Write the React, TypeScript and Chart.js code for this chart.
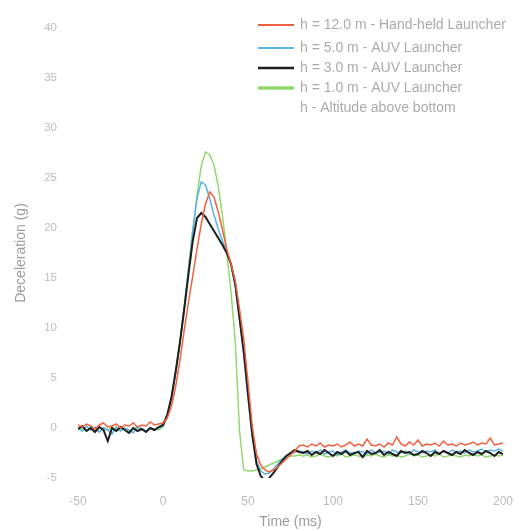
import React, { useEffect, useRef } from "react";
import { Chart, registerables } from "chart.js";

Chart.register(...registerables);

const TIME = [
  -50, -47.5, -45, -42.5, -40, -37.5, -35, -32.5, -30, -27.5,
  -25, -22.5, -20, -17.5, -15, -12.5, -10, -7.5, -5, -2.5,
  0, 2.5, 5, 7.5, 10, 12.5, 15, 17.5, 20, 22.5,
  25, 27.5, 30, 32.5, 35, 37.5, 40, 42.5, 45, 47.5,
  50, 52.5, 55, 57.5, 60, 62.5, 65, 67.5, 70, 72.5,
  75, 77.5, 80, 82.5, 85, 87.5, 90, 92.5, 95, 97.5,
  100, 102.5, 105, 107.5, 110, 112.5, 115, 117.5, 120, 122.5,
  125, 127.5, 130, 132.5, 135, 137.5, 140, 142.5, 145, 147.5,
  150, 152.5, 155, 157.5, 160, 162.5, 165, 167.5, 170, 172.5,
  175, 177.5, 180, 182.5, 185, 187.5, 190, 192.5, 195, 197.5,
  200,
];

const H12 = [
  0.3, 0.1, 0.4, 0.2, -0.1, 0.3, 0.5, 0.1, 0.2, 0.4,
  0.0, 0.3, 0.2, 0.5, 0.1, 0.3, 0.2, 0.6, 0.3, 0.4,
  0.5, 1.0, 2.2, 4.2, 6.8, 9.8, 12.6, 15.2, 17.9, 20.4,
  22.4, 23.6, 23.1, 21.6, 19.8, 17.9, 16.4, 14.7, 11.9, 8.9,
  4.6, 0.2, -2.6, -3.7, -4.2, -4.4, -4.2, -3.9, -3.5, -3.1,
  -2.7, -2.3, -1.8,
  -1.7, -1.9, -1.6, -1.8, -1.5, -1.9, -1.7, -1.8, -1.6, -1.9, -1.7, -1.4,
  -1.8, -1.6, -1.8, -1.1, -1.7, -1.8, -1.6, -1.9, -1.5, -1.7, -0.9, -1.6,
  -1.8, -1.4, -1.7, -1.2, -1.8, -1.6, -1.7, -1.5, -1.8, -1.3, -1.7, -1.6,
  -1.8, -1.5, -1.7, -1.6, -1.4, -1.7, -1.5, -1.6, -1.0, -1.7, -1.6, -1.5,
];

const H5 = [
  0.0, -0.3, 0.2, -0.2, 0.1, -0.4, 0.0, -0.2, -0.6, 0.1,
  -0.3, 0.0, -0.2, -0.5, 0.1, -0.1, -0.3, 0.0, -0.2, 0.0,
  0.2, 1.2, 3.0, 5.6, 8.5, 12.0, 15.8, 19.6, 23.0, 24.6,
  24.3, 22.9, 21.3, 19.9, 18.7, 17.6, 16.4, 14.2, 10.9, 7.3,
  3.0, -1.0, -3.3, -4.3, -4.6, -4.5, -4.1, -3.6, -3.1, -2.8,
  -2.6, -2.4, -2.3,
  -2.4, -2.6, -2.3, -2.5, -2.2, -2.6, -2.4, -2.3, -2.7, -2.4, -2.2, -2.5,
  -2.6, -2.3, -2.4, -2.6, -2.2, -2.5, -2.4, -2.3, -2.6, -2.2, -2.4, -2.5,
  -2.3, -2.6, -2.2, -2.4, -2.5, -2.3, -2.4, -2.2, -2.6, -2.3, -2.5, -2.2,
  -2.4, -2.3, -2.5, -2.2, -2.4, -2.3, -2.1, -2.4, -2.2, -2.3, -2.1, -2.3,
];

const H3 = [
  -0.1, 0.2, -0.3, 0.0, -0.4, 0.1, -0.2, -1.3, 0.0, -0.3,
  0.1, -0.2, -0.5, 0.0, -0.3, -0.1, -0.4, 0.0, -0.2, 0.1,
  0.3, 1.3, 3.1, 5.7, 8.6, 11.9, 15.4, 18.7, 21.0, 21.5,
  21.1, 20.4, 19.7, 19.0, 18.3, 17.5, 16.4, 14.4, 11.0, 7.6,
  3.4, -0.6, -3.6, -4.8, -5.3, -5.0, -4.5, -3.9, -3.3, -2.8,
  -2.5, -2.2, -2.4,
  -2.5, -2.3, -2.7, -2.4, -2.6, -2.2, -2.5, -2.8, -2.4, -2.6, -2.3, -2.7,
  -2.5, -2.4, -2.9, -2.3, -2.6, -2.5, -2.2, -2.7, -2.4, -2.6, -2.8, -2.3,
  -2.5, -2.4, -2.7, -2.6, -2.3, -2.5, -2.8, -2.4, -2.6, -2.3, -2.5, -2.7,
  -2.4, -2.6, -2.2, -2.5, -2.7, -2.4, -2.6, -2.3, -2.5, -2.8, -2.4, -2.6,
];

const H1 = [
  -0.2, 0.0, -0.3, 0.1, -0.1, -0.4, 0.0, -0.2, 0.2, -0.3,
  -0.1, 0.0, -0.4, -0.1, 0.1, -0.2, -0.3, 0.0, -0.1, -0.2,
  0.1, 1.1, 3.0, 5.6, 8.6, 12.2, 16.0, 19.8, 23.2, 26.2,
  27.6, 27.3, 26.3, 24.2, 21.2, 17.6, 13.6, 8.7, -0.3, -4.2,
  -4.3, -4.3, -4.2, -4.1, -3.9, -3.7, -3.5, -3.3, -3.1, -2.9,
  -2.8, -2.8, -2.7,
  -2.8, -2.7, -2.9, -2.8, -2.6, -2.8, -2.9, -2.7, -2.8, -2.6, -2.9, -2.8,
  -2.7, -2.8, -2.9, -2.7, -2.8, -2.6, -2.8, -2.9, -2.7, -2.8, -2.7, -2.9,
  -2.8, -2.6, -2.8, -2.7, -2.9, -2.8, -2.7, -2.8, -2.6, -2.9, -2.8, -2.7,
  -2.8, -2.9, -2.7, -2.8, -2.6, -2.8, -2.7, -2.9, -2.8, -2.7, -2.8, -2.7,
];

const SERIES_LABELS = [
  "h = 12.0 m - Hand-held Launcher",
  "h = 5.0 m - AUV Launcher",
  "h = 3.0 m - AUV Launcher",
  "h = 1.0 m - AUV Launcher",
];
const LEGEND_NOTE = "h - Altitude above bottom";
const X_TITLE = "Time (ms)";
const Y_TITLE = "Deceleration (g)";

const COLORS = ["#f2603f", "#5ab4e6", "#1e1e1e", "#93d86f"];
const WIDTHS = [1.5, 1.5, 2, 1.5];
const LEGEND_WIDTHS = [2, 2, 2.5, 3.5];

const FONT = "'Liberation Sans', Arial, sans-serif";

const legendPlugin = {
  id: "insideLegend",
  afterDraw(chart: any) {
    const ctx = chart.ctx as CanvasRenderingContext2D;
    const rows = [25, 48, 68, 88, 108];
    const x0 = 258;
    const x1 = 294;
    ctx.save();
    ctx.font = `14px ${FONT}`;
    ctx.textBaseline = "middle";
    ctx.textAlign = "left";
    SERIES_LABELS.forEach((lab, i) => {
      ctx.strokeStyle = COLORS[i];
      ctx.lineWidth = LEGEND_WIDTHS[i];
      ctx.beginPath();
      ctx.moveTo(x0, rows[i]);
      ctx.lineTo(x1, rows[i]);
      ctx.stroke();
      ctx.fillStyle = "#ababab";
      ctx.fillText(lab, 300, rows[i]);
    });
    ctx.fillStyle = "#ababab";
    ctx.fillText(LEGEND_NOTE, 300, rows[4]);
    ctx.restore();
  },
};

export default function App() {
  const ref = useRef<HTMLCanvasElement>(null);
  useEffect(() => {
    const toXY = (v: number[]) => TIME.map((t, i) => ({ x: t, y: v[i] }));
    const values = [H12, H5, H3, H1];
    const orders = [0, 2, 1, 3];
    const chart = new Chart(ref.current!, {
      type: "line",
      data: {
        datasets: values.map((v, i) => ({
          label: SERIES_LABELS[i],
          data: toXY(v),
          borderColor: COLORS[i],
          backgroundColor: COLORS[i],
          borderWidth: WIDTHS[i],
          pointRadius: 0,
          tension: 0,
          fill: false,
          order: orders[i],
        })),
      },
      options: {
        animation: false,
        responsive: false,
        maintainAspectRatio: false,
        layout: { padding: { left: 9, right: 28, top: 28, bottom: 0 } },
        plugins: { legend: { display: false }, tooltip: { enabled: false } },
        scales: {
          x: {
            type: "linear",
            min: -50,
            max: 200,
            ticks: {
              stepSize: 50,
              color: "#bdbdbd",
              font: { family: FONT, size: 12 },
              padding: 16,
            },
            grid: { display: false, drawTicks: false },
            border: { display: false },
            title: {
              display: true,
              text: X_TITLE,
              color: "#9c9c9c",
              font: { family: FONT, size: 14 },
              padding: { top: 0, bottom: 0 },
            },
            afterFit: (s: any) => {
              s.height = 53;
            },
          },
          y: {
            type: "linear",
            min: -5,
            max: 40,
            ticks: {
              stepSize: 5,
              color: "#bdbdbd",
              font: { family: FONT, size: 11.5 },
              padding: 21,
            },
            grid: { display: false, drawTicks: false },
            border: { display: false },
            title: {
              display: true,
              text: Y_TITLE,
              color: "#9c9c9c",
              font: { family: FONT, size: 14 },
              padding: { top: 4, bottom: 4 },
            },
            afterFit: (s: any) => {
              s.width = 69;
            },
          },
        },
      },
      plugins: [legendPlugin],
    } as any);
    return () => chart.destroy();
  }, []);
  return (
    <div style={{ position: "fixed", left: 0, top: 0, width: 531, height: 531, background: "#fff" }}>
      <canvas ref={ref} width={531} height={531} style={{ width: 531, height: 531, display: "block" }} />
    </div>
  );
}
